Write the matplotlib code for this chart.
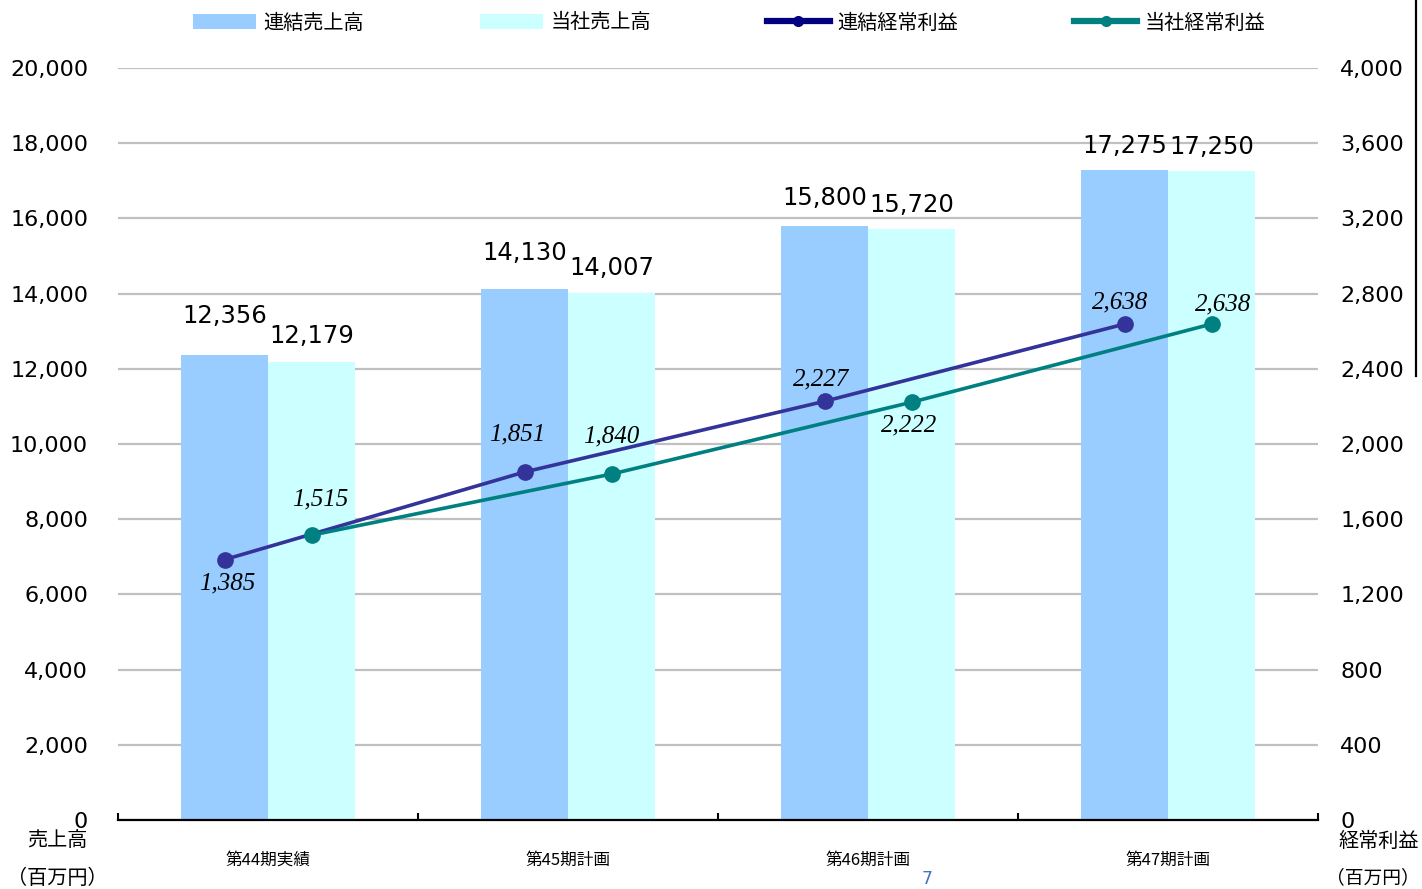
import matplotlib
matplotlib.use("Agg")
import matplotlib.pyplot as plt
from matplotlib.patches import Patch
from matplotlib.lines import Line2D
from matplotlib.ticker import FuncFormatter, FixedLocator
import numpy as np

plt.rcParams['font.family'] = ['DejaVu Sans', 'Noto Sans CJK JP']

categories = ['第44期実績', '第45期計画', '第46期計画', '第47期計画']
sales_consol = [12356, 14130, 15800, 17275]
sales_parent = [12179, 14007, 15720, 17250]
profit_consol = [1385, 1851, 2227, 2638]
profit_parent = [1515, 1840, 2222, 2638]

series_names = ['連結売上高', '当社売上高', '連結経常利益', '当社経常利益']

# label offsets (pixels) — styling only
bar_lbl_off_c = [39, 36, 28, 24]
bar_lbl_off_p = [26, 25, 24, 24]
line_lbl_off_c = [(3, -24), (-7, 38), (-3, 22), (-4, 22)]
line_lbl_off_p = [(9, 36), (0, 38), (-2, -23), (12, 20)]

W, H = 1422, 889
fig = plt.figure(figsize=(W / 100, H / 100), dpi=100)
ax_left, ax_right, ax_top, ax_bot = 118, 1318, 68, 820
ax = fig.add_axes([ax_left / W, 1 - ax_bot / H, (ax_right - ax_left) / W, (ax_bot - ax_top) / H])

x = np.arange(len(categories))
bw = 0.29
c_blue = '#99CCFF'
c_cyan = '#CCFFFF'
c_line1 = '#333399'
c_line2 = '#008080'

ax.bar(x - bw / 2, sales_consol, width=bw, color=c_blue, zorder=2)
ax.bar(x + bw / 2, sales_parent, width=bw, color=c_cyan, zorder=2)
ax.set_ylim(0, 20000)
ax.set_xlim(-0.5, len(categories) - 0.5)
ax.yaxis.set_major_locator(FixedLocator(np.arange(0, 20001, 2000)))
ax.yaxis.set_major_formatter(FuncFormatter(lambda v, p: f'{int(v):,}'))
ax.grid(axis='y', color='#C0C0C0', linewidth=1.6, zorder=0)
ax.set_axisbelow(True)
for s in ['left', 'right', 'top']:
    ax.spines[s].set_visible(False)
ax.spines['bottom'].set_linewidth(1.6)
ax.spines['bottom'].set_zorder(5)
ax.tick_params(axis='y', length=0, pad=21.5, labelsize=16)
ax.set_xticks(np.arange(-0.5, len(categories), 1.0))
ax.set_xticklabels([])
ax.tick_params(axis='x', which='major', direction='in', length=5, width=1.5)
ax.set_xticks(x, minor=True)
ax.set_xticklabels(categories, minor=True, fontsize=12, family=['Noto Sans CJK JP'])
ax.tick_params(axis='x', which='minor', length=0, pad=23)

for i in range(len(categories)):
    ax.annotate(f'{sales_consol[i]:,}', (x[i] - bw / 2, sales_consol[i]),
                xytext=(0, bar_lbl_off_c[i] * 0.72), textcoords='offset points',
                ha='center', va='center', fontsize=17.5, color='black')
    ax.annotate(f'{sales_parent[i]:,}', (x[i] + bw / 2, sales_parent[i]),
                xytext=(0, bar_lbl_off_p[i] * 0.72), textcoords='offset points',
                ha='center', va='center', fontsize=17.5, color='black')

ax2 = ax.twinx()
ax2.set_ylim(0, 4000)
ax2.yaxis.set_major_locator(FixedLocator(np.arange(0, 4001, 400)))
ax2.yaxis.set_major_formatter(FuncFormatter(lambda v, p: f'{int(v):,}'))
for s in ['left', 'right', 'top', 'bottom']:
    ax2.spines[s].set_visible(False)
ax2.tick_params(axis='y', length=0, pad=16, labelsize=16)

ax2.plot(x - bw / 2, profit_consol, color=c_line1, lw=2.6, marker='o', markersize=11, zorder=4)
ax2.plot(x + bw / 2, profit_parent, color=c_line2, lw=2.6, marker='o', markersize=11, zorder=4)

lblfont = dict(family=['Liberation Serif'], style='italic', fontsize=18, color='black')
for i in range(len(categories)):
    dx, dy = line_lbl_off_c[i]
    ax2.annotate(f'{profit_consol[i]:,}', (x[i] - bw / 2, profit_consol[i]),
                 xytext=(dx * 0.72, dy * 0.72), textcoords='offset points',
                 ha='center', va='center', **lblfont)
    dx, dy = line_lbl_off_p[i]
    ax2.annotate(f'{profit_parent[i]:,}', (x[i] + bw / 2, profit_parent[i]),
                 xytext=(dx * 0.72, dy * 0.72), textcoords='offset points',
                 ha='center', va='center', **lblfont)

handles = [
    Patch(facecolor=c_blue, edgecolor='none'),
    Patch(facecolor=c_cyan, edgecolor='none'),
    Line2D([0], [0], color='#000080', lw=4.5, marker='o', markersize=7),
    Line2D([0], [0], color=c_line2, lw=4.5, marker='o', markersize=7),
]
fig.legend(handles, series_names, loc='center', bbox_to_anchor=(729 / W, 1 - 23 / H),
           ncol=4, frameon=False, prop={'family': ['Noto Sans CJK JP'], 'size': 14.5},
           handlelength=3.15, handleheight=0.75, handletextpad=0.35, columnspacing=5.75,
           borderpad=0, borderaxespad=0)

cjk = ['Noto Sans CJK JP']
fig.text(57 / W, 1 - 841 / H, '売上高', ha='center', va='center', fontsize=14.5, family=cjk)
fig.text(57 / W, 1 - 878 / H, '（百万円）', ha='center', va='center', fontsize=14.5, family=cjk)
fig.text(1379 / W, 1 - 841 / H, '経常利益', ha='center', va='center', fontsize=14.5, family=cjk)
fig.text(1373 / W, 1 - 878 / H, '（百万円）', ha='center', va='center', fontsize=13.5, family=cjk)
fig.text(927 / W, 1 - 879 / H, '7', ha='center', va='center', fontsize=12.5, color='#4472C4')

fig.add_artist(Line2D([1416 / W, 1416 / W], [1, 1 - 376 / H], color='black', lw=1.6,
                      transform=fig.transFigure))

fig.savefig('out.png', dpi=100)
